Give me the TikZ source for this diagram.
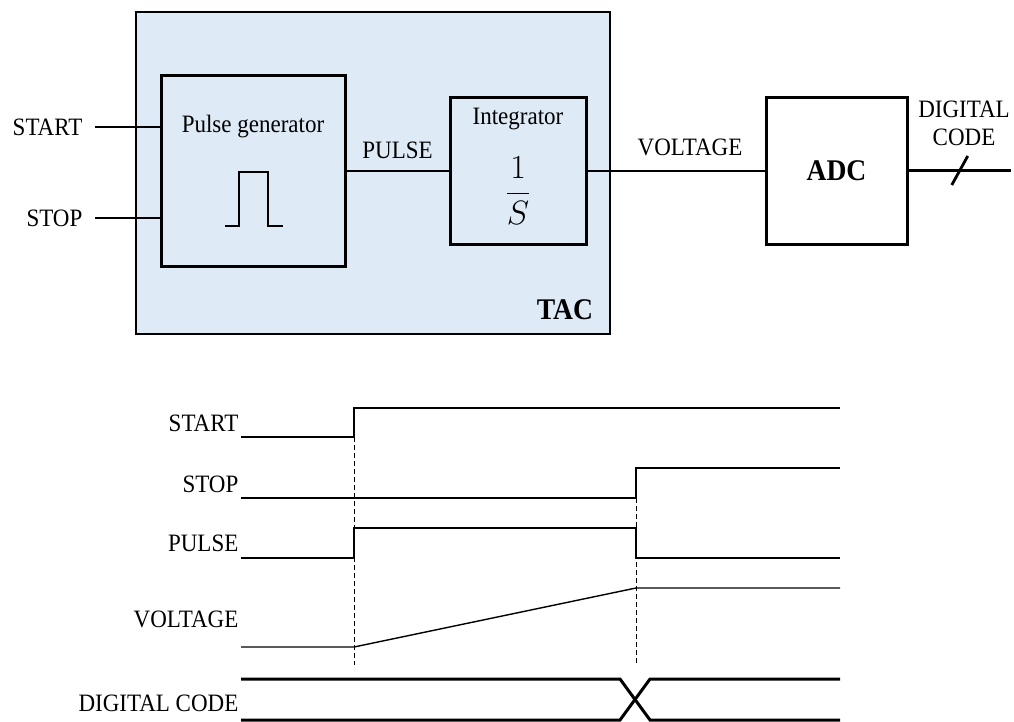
\RequirePackage{fix-cm}
\documentclass[tikz,border=0pt]{standalone}
\usepackage{amsmath}
\usepackage{fontspec}
\setmainfont{Liberation Serif}[FakeStretch=0.92]
\usepackage{xcolor}
\usepackage{tikz}
\usetikzlibrary{positioning, calc}
\definecolor{tacfill}{RGB}{222,234,246}
\newcommand{\lblfont}{\fontsize{25}{28}\selectfont}
\newcommand{\bigfont}{\bfseries\fontsize{30}{32}\selectfont}

\begin{document}
\begin{tikzpicture}[
    x=1pt, y=-1pt,
    font=\lblfont,
    line width=1.3pt,
    lbl/.style={inner sep=2pt},
    blk/.style={rectangle, draw, line width=3pt, inner sep=0pt},
    sig/.style={line width=1.4pt},
    bus/.style={line width=3pt},
    marker/.style={line width=1pt, dash pattern=on 5pt off 3pt},
]
    \useasboundingbox (0,0) rectangle (1014,722);

    % TAC block
    \node[rectangle, draw, fill=tacfill, minimum width=474pt, minimum height=322pt] (tac) at (373,173) {};
    \node[blk, minimum width=184pt, minimum height=190pt] (pulsegen) at (253,171) {};
    \node[blk, minimum width=136pt, minimum height=146pt, right=102pt of pulsegen] (integ) {};
    \node[blk, minimum width=141pt, minimum height=146pt, right=177pt of integ, font=\bigfont] (adc) {ADC};

    \node[lbl] (pgtext) at ([yshift=-52pt]pulsegen.north) {Pulse generator};
    \draw ($(pulsegen.center)+(-28,55)$) -| ++(14,-54) -| ++(29,54) -- ++(15,0);
    \node[lbl] (intext) at ([yshift=-23pt]integ.north) {Integrator};
    \node[lbl] (infrac) at ([yshift=-20pt]integ.center) {\scalebox{1.35}{$\dfrac{1}{S}$}};
    \node[lbl, font=\bigfont, anchor=south east] (taclbl) at ([xshift=-15pt, yshift=12pt]tac.south east) {TAC};

    % inputs
    \coordinate (startin) at (95,127);
    \coordinate (stopin) at (95,218);
    \node[lbl, left=10pt of startin] (startlbl) {START};
    \node[lbl, left=10pt of stopin] (stoplbl) {STOP};
    \draw (startin) -- (startin -| pulsegen.west);
    \draw (stopin) -- (stopin -| pulsegen.west);

    \draw (pulsegen) -- node[lbl, above=10pt] (pulselbl) {PULSE} (integ);
    \draw (integ) -- node[lbl, above=12pt, xshift=14pt] (voltlbl) {VOLTAGE} (adc);

    % digital output
    \coordinate (dout) at (1011,171);
    \draw[bus] (adc) -- (dout);
    \draw[line width=2.8pt] ($(adc.east)!0.5!(dout)$) +(-8,14) -- +(8,-15);
    \node[lbl, align=center] (doutlbl) at (964,123) {DIGITAL\\CODE};

    % timing diagram
    \node[lbl, anchor=east] (tstart) at (241,423) {START};
    \node[lbl, anchor=east] (tstop) at (241,484) {STOP};
    \node[lbl, anchor=east] (tpulse) at (241,543) {PULSE};
    \node[lbl, anchor=east] (tvolt) at (241,619) {VOLTAGE};
    \node[lbl, anchor=east] (tcode) at (241,703) {DIGITAL CODE};

    \draw[sig] (241,437) -- (354,437) -- (354,408) -- (840,408);
    \draw[sig] (241,498) -- (636,498) -- (636,468) -- (840,468);
    \draw[sig] (241,558) -- (354,558) -- (354,528) -- (636,528) -- (636,558) -- (840,558);
    \draw[sig] (241,647) -- (354,647) -- (636,588) -- (840,588);
    \draw[bus] (241,679) -- (620,679) -- (650,720) -- (840,720);
    \draw[bus] (241,720) -- (620,720) -- (650,679) -- (840,679);

    \draw[marker] (354,437) -- (354,665);
    \draw[marker] (636,498) -- (636,665);
\end{tikzpicture}
\end{document}
